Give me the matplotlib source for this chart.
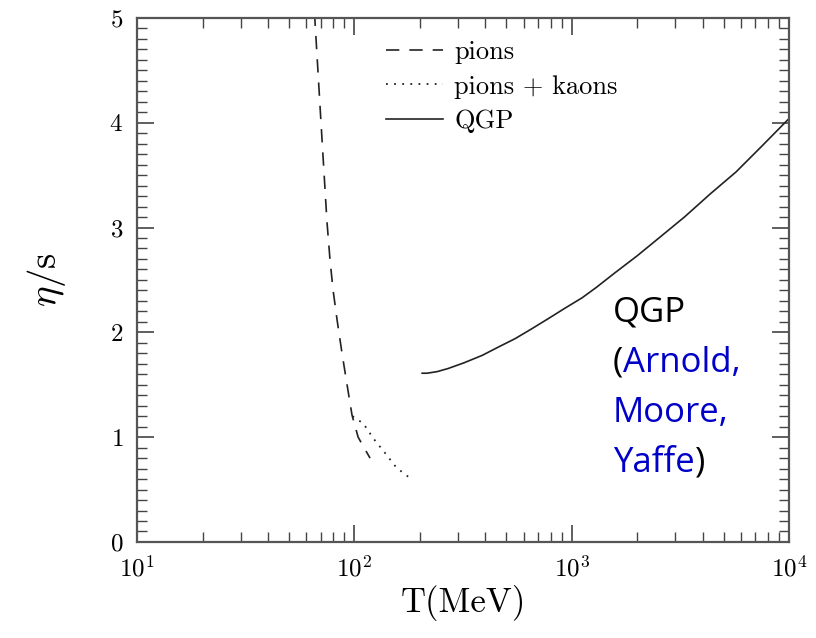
import numpy as np
import matplotlib
matplotlib.use('Agg')
import matplotlib.pyplot as plt
from matplotlib.ticker import LogLocator, MultipleLocator, NullFormatter

plt.rcParams['font.family'] = ['cmr10', 'DejaVu Serif']
plt.rcParams['mathtext.fontset'] = 'cm'
plt.rcParams['axes.formatter.use_mathtext'] = True
plt.rcParams['axes.unicode_minus'] = False

# eta/s curves (T in MeV)
pion_T = [65.5, 69.5, 71.8, 74.8, 77.3, 79.8, 83.2, 87.7, 92.5, 97.5, 104.0, 118.0]
pion_eta = [5.05, 4.15, 3.66, 3.05, 2.68, 2.40, 2.12, 1.80, 1.50, 1.21, 1.00, 0.80]

kaon_T = [98.0, 110.0, 122.0, 137.0, 156.0, 180.0]
kaon_eta = [1.20, 1.13, 0.99, 0.86, 0.71, 0.61]

qgp_T = [205, 216, 240, 270, 320, 387, 460, 549, 650, 779, 930, 1117, 1300, 1585,
         2000, 2553, 3300, 4335, 5700, 7360, 10000]
qgp_eta = [1.61, 1.61, 1.625, 1.655, 1.71, 1.78, 1.86, 1.94, 2.03, 2.13, 2.23, 2.33,
           2.43, 2.57, 2.73, 2.91, 3.10, 3.32, 3.53, 3.76, 4.04]

fig = plt.figure(figsize=(8.16, 6.38), dpi=100)
ax = fig.add_axes([0.168, 0.1505, 0.799, 0.8215])

ax.plot(pion_T, pion_eta, color='#222222', lw=1.2, dashes=(8, 6), label='pions')
ax.plot(kaon_T, kaon_eta, color='#222222', lw=1.3, dashes=(1, 3.5), label='pions + kaons')
ax.plot(qgp_T, qgp_eta, color='#222222', lw=1.2, label='QGP')

ax.set_xscale('log')
ax.set_xlim(10, 1e4)
ax.set_ylim(0, 5)
ax.xaxis.set_major_locator(LogLocator(base=10, numticks=10))
ax.xaxis.set_minor_locator(LogLocator(base=10, subs=np.arange(2, 10), numticks=10))
ax.xaxis.set_minor_formatter(NullFormatter())
ax.yaxis.set_major_locator(MultipleLocator(1))
ax.yaxis.set_minor_locator(MultipleLocator(0.1))

ax.tick_params(which='both', direction='in', top=True, right=True, color='#444444')
ax.tick_params(which='major', length=12, width=1.2, labelsize=18, pad=10)
ax.tick_params(which='minor', length=7, width=1.0)
for sp in ax.spines.values():
    sp.set_color('#555555')
    sp.set_linewidth(1.6)

ax.set_xlabel('T(MeV)', fontsize=25, labelpad=2)
ax.set_ylabel(r'$\eta/\mathrm{s}$', fontsize=28, labelpad=30)

leg = ax.legend(loc='upper left', bbox_to_anchor=(0.345, 1.003), frameon=False,
                fontsize=19, handlelength=2.15, handletextpad=0.45, labelspacing=0.42)

# annotation, black/blue pieces
blue = '#0000c8'
tx = 0.73
fam = ['Open Sans', 'DejaVu Sans']
kw = dict(fontsize=25, family=fam, transform=ax.transAxes, va='baseline')
ax.text(tx, 0.421, 'QGP', color='black', **kw)
p1 = ax.text(tx, 0.325, '(', color='black', **kw)
ax.annotate('Arnold,', xy=(1, 0), xycoords=p1, va='bottom', color=blue,
            fontsize=25, family=fam)
ax.text(tx, 0.229, 'Moore,', color=blue, **kw)
y1 = ax.text(tx, 0.134, 'Yaffe', color=blue, **kw)
ax.annotate(')', xy=(1, 0), xycoords=y1, va='bottom', color='black',
            fontsize=25, family=fam)

fig.savefig('out.png', dpi=100)
